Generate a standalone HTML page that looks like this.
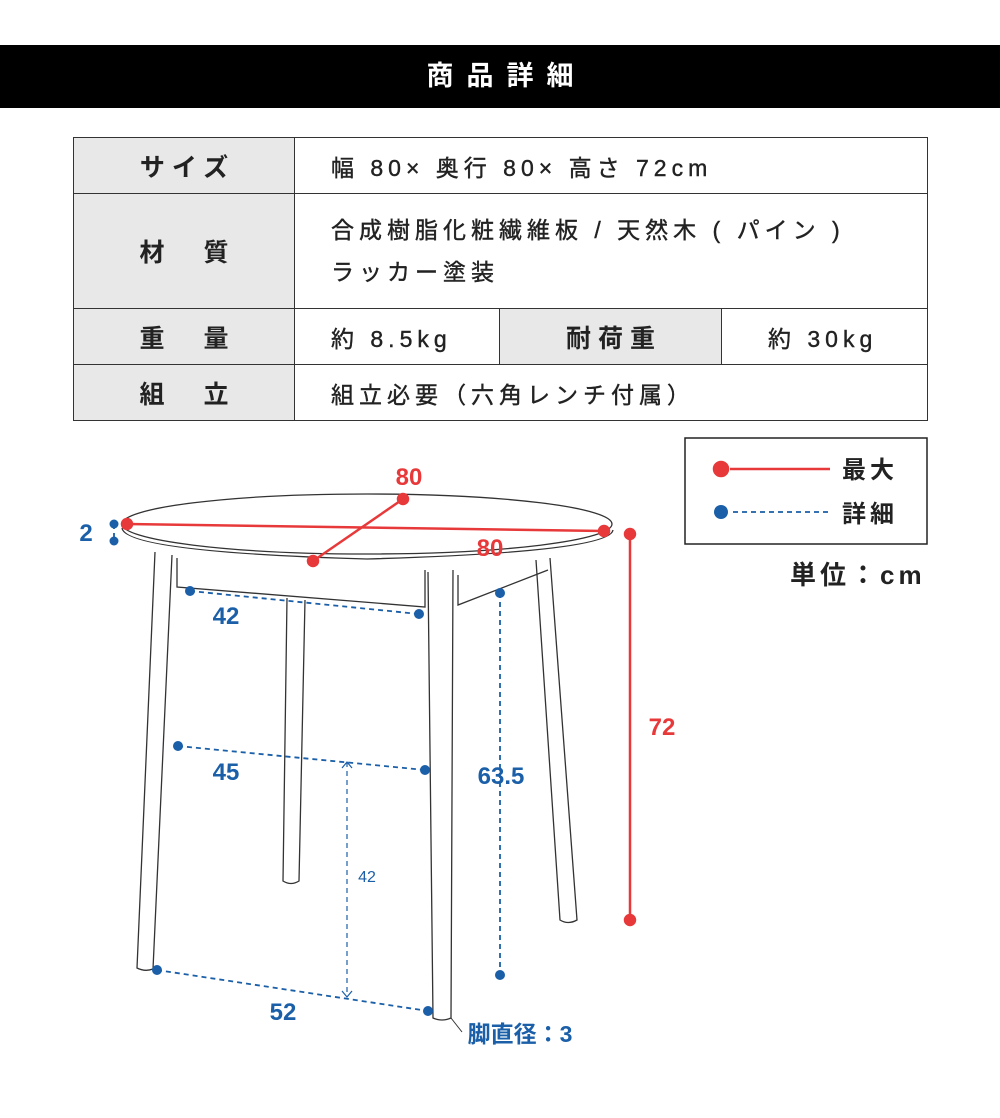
<!DOCTYPE html>
<html><head><meta charset="utf-8"><style>
body{margin:0;width:1000px;height:1118px;background:#fff;font-family:"Liberation Sans","Noto Sans CJK JP",sans-serif;position:relative;overflow:hidden}
.hdr{position:absolute;left:0;top:45px;width:1000px;height:63px;background:#000;color:#fff;font-size:27px;font-weight:bold;letter-spacing:13px;text-indent:13px;text-align:center;line-height:63px}
table{position:absolute;left:73px;top:137px;width:855px;border-collapse:collapse;font-size:23px;color:#222}
td{border:1.5px solid #333;padding:0;letter-spacing:5px}
td.l{background:#e8e8e8;font-weight:bold;text-align:center;width:220px;font-size:25px;letter-spacing:7px;text-indent:7px}
td.v{padding-left:36px;-webkit-text-stroke:0.4px #222}
</style></head><body>
<div class="hdr">商品詳細</div>
<table>
<tr style="height:56px"><td class="l">サイズ</td><td class="v" colspan="3">幅 80× 奥行 80× 高さ 72cm</td></tr>
<tr style="height:115px"><td class="l">材　質</td><td class="v" colspan="3" style="line-height:42px">合成樹脂化粧繊維板 / 天然木 ( パイン )<br>ラッカー塗装</td></tr>
<tr style="height:56px"><td class="l">重　量</td><td class="v" style="width:168px">約 8.5kg</td><td class="l" style="width:221px">耐荷重</td><td class="v" style="padding-left:46px">約 30kg</td></tr>
<tr style="height:56px"><td class="l">組　立</td><td class="v" colspan="3">組立必要（六角レンチ付属）</td></tr>
</table>
<svg width="1000" height="1118" style="position:absolute;left:0;top:0" font-family="Liberation Sans, Noto Sans CJK JP, sans-serif">
<g fill="none" stroke="#333" stroke-width="1.3">
<ellipse cx="367" cy="524" rx="245" ry="30" fill="#fff"/>
<path d="M122 528 Q125 552 367 559 Q610 552 613 530"/>
<path d="M155 552 L137 968 Q145 972 153 969 L172 555"/>
<path d="M177 558 L177 587 L425 607 L425 570"/>
<path d="M287 598 L283 881 Q291 886 299 881 L305 600"/>
<path d="M428 572 L433 1018 Q442 1022 451 1018 L453 570"/>
<path d="M458 575 L458 605 L548 570"/>
<path d="M536 560 L560 920 Q568 925 577 920 L550 558"/>
<path d="M451 1018 L462 1032" stroke-width="1"/>
</g>
<g stroke="#e8393a" stroke-width="2.5" fill="#e8393a">
<line x1="127" y1="524" x2="604" y2="531"/>
<line x1="403" y1="499" x2="313" y2="561"/>
<line x1="630" y1="534" x2="630" y2="920"/>
<circle cx="127" cy="524" r="5"/><circle cx="604" cy="531" r="5"/><circle cx="403" cy="499" r="5"/><circle cx="313" cy="561" r="5"/><circle cx="630" cy="534" r="5"/><circle cx="630" cy="920" r="5"/>
<line x1="730" y1="469" x2="830" y2="469"/><circle cx="721" cy="469" r="7"/>
</g>
<g fill="#e8393a" font-size="24" text-anchor="middle" font-weight="bold"><text x="409" y="485">80</text><text x="490" y="556">80</text><text x="662" y="735">72</text></g>
<g stroke="#1a5fa8" stroke-width="1.8" stroke-dasharray="5,4" fill="none">
<line x1="114" y1="524" x2="114" y2="541"/>
<line x1="190" y1="591" x2="419" y2="614"/>
<line x1="178" y1="746" x2="425" y2="770"/>
<line x1="157" y1="970" x2="428" y2="1011"/>
<line x1="500" y1="593" x2="500" y2="975"/>
<line x1="347" y1="762" x2="347" y2="997" stroke-width="1.2"/>
<line x1="733" y1="512" x2="830" y2="512"/>
</g>
<path d="M342 768 L347 762 L352 768 M342 991 L347 997 L352 991" stroke="#1a5fa8" fill="none" stroke-width="1.2"/>
<g fill="#1a5fa8">
<circle cx="114" cy="524" r="4.5"/><circle cx="114" cy="541" r="4.5"/>
<circle cx="190" cy="591" r="5"/><circle cx="419" cy="614" r="5"/>
<circle cx="178" cy="746" r="5"/><circle cx="425" cy="770" r="5"/>
<circle cx="157" cy="970" r="5"/><circle cx="428" cy="1011" r="5"/>
<circle cx="500" cy="593" r="5"/><circle cx="500" cy="975" r="5"/>
<circle cx="721" cy="512" r="7"/>
</g>
<g fill="#1a5fa8" font-size="24" text-anchor="middle" font-weight="bold">
<text x="86" y="541">2</text><text x="226" y="624">42</text><text x="226" y="780">45</text><text x="501" y="784">63.5</text><text x="283" y="1020">52</text>
<text x="367" y="882" font-size="16" font-weight="normal">42</text>
<text x="520" y="1042" font-size="23">脚直径：3</text>
</g>
<rect x="685" y="438" width="242" height="106" fill="none" stroke="#222" stroke-width="1.5"/>
<g fill="#222" font-size="24" font-weight="bold" letter-spacing="4"><text x="842" y="478">最大</text><text x="842" y="522">詳細</text>
<text x="790" y="584" font-size="26" letter-spacing="4">単位：cm</text></g>
</svg>
</body></html>
